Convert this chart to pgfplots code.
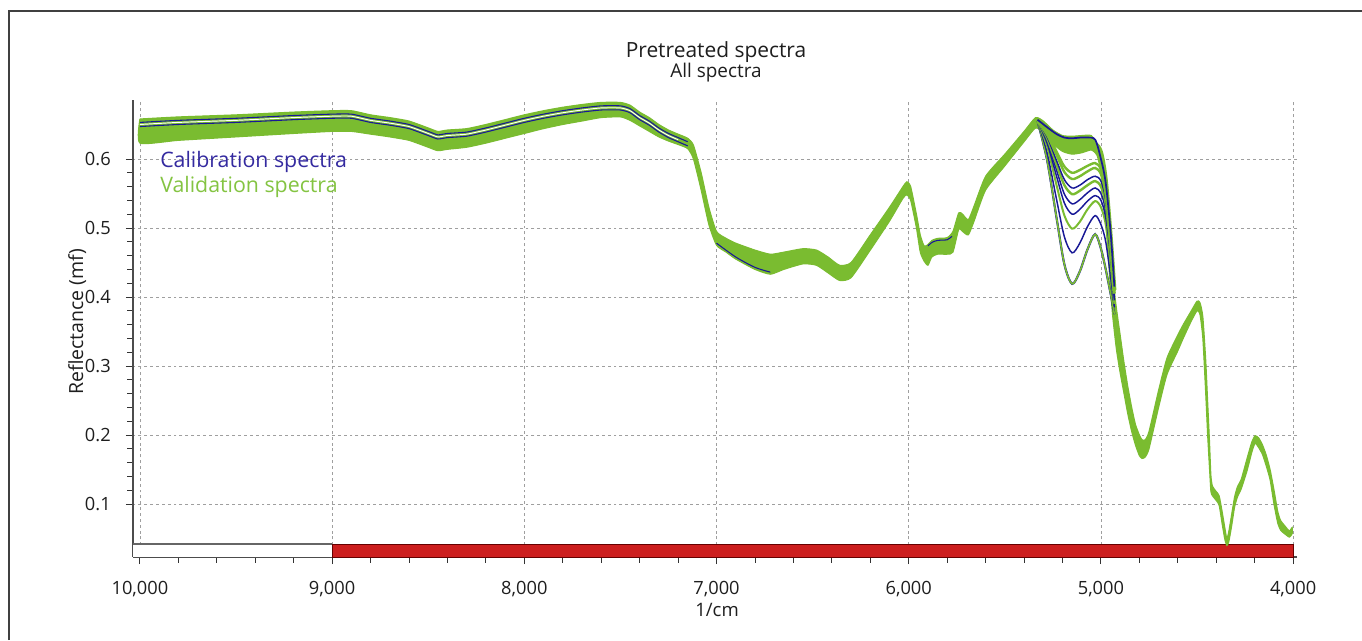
\documentclass[border=0pt]{standalone}
\usepackage{fontspec}
\setmainfont{Open Sans}
\usepackage{pgfplots}
\pgfplotsset{compat=1.18}
\definecolor{specgreen}{RGB}{122,188,48}
\definecolor{specblue}{RGB}{24,24,150}
\definecolor{calblue}{RGB}{52,42,160}
\definecolor{valgreen}{RGB}{132,196,66}
\definecolor{barred}{RGB}{204,30,30}
\definecolor{txt}{RGB}{30,30,30}
\begin{document}
\begin{tikzpicture}
\useasboundingbox (0,0) rectangle (1021.5pt,480pt);
\fill[white] (0,0) rectangle (1021.5pt,480pt);
\draw[black!75, line width=1pt] (6.75pt,0) -- (6.75pt,471.75pt) -- (1021.5pt,471.75pt);
\begin{axis}[
  at={(99.75pt,62.25pt)}, anchor=south west,
  scale only axis, width=873pt, height=342.75pt,
  x dir=reverse, xmin=3980, xmax=10036, ymin=0.0232, ymax=0.6855,
  axis x line=bottom, axis y line=left,
  axis line style={-, black!70, line width=1pt},
  xtick={4000,5000,6000,7000,8000,9000,10000},
  ytick={0.1,0.2,0.3,0.4,0.5,0.6},
  scaled x ticks=false, scaled y ticks=false,
  minor x tick num=4, minor y tick num=4,
  tick align=outside,
  major tick length=5.25pt, minor tick length=4.2pt,
  every tick/.style={black!80, line width=0.7pt},
  grid=major,
  major grid style={gray!75, dash pattern=on 2.2pt off 2.2pt, line width=0.6pt},
  /pgf/number format/assume math mode=true,
  xticklabel style={font=\fontsize{13.7pt}{16pt}\selectfont, text=txt, anchor=base, inner sep=0pt, yshift=-22.5pt,
     /pgf/number format/1000 sep={,}},
  yticklabel style={font=\fontsize{13.7pt}{16pt}\selectfont, text=txt, anchor=east, inner sep=0pt, xshift=-11.25pt,
     /pgf/number format/fixed, /pgf/number format/precision=1},
  clip=false,
]
% white bar zone and red band
\addplot[fill=white, draw=none] coordinates {(10036,0.0232) (10036,0.042) (9000,0.042) (9000,0.0232)} -- cycle;
\addplot[gray!80!black, line width=0.8pt] coordinates {(10036,0.042) (9000,0.042)};
\addplot[fill=barred, draw=black!60!red, line width=0.6pt] coordinates {(9000,0.0232) (9000,0.042) (4000,0.042) (4000,0.0232)} -- cycle;

% green envelope of all spectra (upper then lower)
\addplot[smooth, tension=0.35, draw=specgreen, fill=specgreen, line width=0.8pt] coordinates {
(10000,0.658) (9800,0.661) (9500,0.664) (9200,0.668) (9000,0.670) (8900,0.670) (8800,0.664) (8700,0.660)
(8600,0.655) (8500,0.645) (8450,0.640) (8400,0.642) (8300,0.644) (8200,0.650) (8100,0.657) (8000,0.664)
(7900,0.670) (7800,0.675) (7700,0.679) (7600,0.682) (7500,0.682) (7450,0.678) (7400,0.668) (7350,0.660)
(7300,0.650) (7250,0.642) (7200,0.636) (7150,0.630) (7120,0.620) (7080,0.580) (7040,0.530) (7000,0.495)
(6950,0.485) (6900,0.478) (6800,0.468) (6720,0.462) (6650,0.465) (6550,0.470) (6480,0.468) (6420,0.458)
(6360,0.446) (6300,0.450) (6200,0.490) (6100,0.530) (6030,0.560) (6010,0.567) (5990,0.560) (5960,0.520)
(5940,0.490) (5920,0.474) (5900,0.476) (5880,0.482) (5850,0.485) (5800,0.486) (5770,0.495) (5740,0.522)
(5720,0.520) (5690,0.512) (5660,0.532) (5600,0.575) (5500,0.607) (5400,0.640) (5340,0.660) (5300,0.655)
(5250,0.642) (5200,0.634) (5150,0.633) (5100,0.634) (5050,0.634) (5020,0.620) (5000,0.602) (4985,0.575)
(4970,0.530) (4955,0.480) (4940,0.432) (4920,0.385) (4900,0.345) (4880,0.305) (4860,0.270) (4840,0.240)
(4820,0.215) (4800,0.200) (4786,0.193) (4770,0.193) (4750,0.205) (4700,0.265) (4656,0.312) (4600,0.345)
(4572,0.360) (4530,0.380) (4500,0.394) (4485,0.392) (4470,0.372) (4455,0.310) (4445,0.250) (4435,0.190)
(4428,0.142) (4420,0.126) (4400,0.118) (4385,0.112) (4370,0.090) (4355,0.065) (4345,0.050) (4335,0.060)
(4320,0.085) (4305,0.110) (4290,0.125) (4270,0.136) (4240,0.166) (4215,0.190) (4198,0.199) (4180,0.196)
(4160,0.186) (4140,0.171) (4120,0.150) (4100,0.121) (4080,0.089) (4065,0.076) (4045,0.069) (4020,0.061)
(4005,0.066)
(4005,0.057) (4020,0.052) (4045,0.057) (4065,0.062) (4080,0.072) (4100,0.100) (4120,0.135) (4140,0.155)
(4160,0.172) (4180,0.182) (4198,0.188) (4215,0.175) (4240,0.148) (4270,0.122) (4290,0.110) (4305,0.095)
(4320,0.068) (4335,0.045) (4345,0.040) (4355,0.048) (4370,0.072) (4385,0.098) (4400,0.105) (4420,0.112)
(4428,0.118) (4435,0.150) (4445,0.200) (4455,0.260) (4470,0.340) (4485,0.375) (4500,0.380) (4530,0.365)
(4572,0.340) (4600,0.322) (4656,0.288) (4700,0.240) (4750,0.180) (4770,0.168) (4786,0.166) (4800,0.170)
(4820,0.185) (4840,0.205) (4860,0.230) (4880,0.260) (4900,0.290) (4920,0.325) (4940,0.375) (4955,0.430)
(4970,0.490) (4985,0.540) (5000,0.580) (5020,0.605) (5050,0.613) (5100,0.609) (5150,0.607) (5200,0.611)
(5250,0.622) (5300,0.638) (5340,0.645) (5400,0.625) (5500,0.590) (5600,0.555) (5660,0.510) (5690,0.490)
(5720,0.495) (5740,0.498) (5770,0.465) (5800,0.462) (5850,0.462) (5880,0.458) (5900,0.446) (5920,0.452)
(5940,0.465) (5960,0.500) (5990,0.540) (6010,0.548) (6030,0.543) (6100,0.510) (6200,0.468) (6300,0.428)
(6360,0.424) (6420,0.435) (6480,0.446) (6550,0.448) (6650,0.440) (6720,0.433) (6800,0.440) (6900,0.455)
(6950,0.465) (7000,0.475) (7040,0.505) (7080,0.555) (7120,0.600) (7150,0.615) (7200,0.621) (7250,0.626)
(7300,0.632) (7350,0.640) (7400,0.648) (7450,0.656) (7500,0.661) (7600,0.660) (7700,0.655) (7800,0.650)
(7900,0.644) (8000,0.637) (8100,0.630) (8200,0.623) (8300,0.617) (8400,0.614) (8450,0.612) (8500,0.617)
(8600,0.627) (8700,0.632) (8800,0.636) (8900,0.640) (9000,0.640) (9200,0.637) (9500,0.632) (9800,0.627)
(10000,0.623) (10000,0.658)
};

% calibration spectra near the top of the band (left part)
\addplot[smooth, tension=0.35, specblue, line width=0.8pt] coordinates {
(10000,0.653) (9800,0.656) (9500,0.659) (9200,0.663) (9000,0.665) (8900,0.665) (8800,0.659) (8700,0.655)
(8600,0.650) (8500,0.640) (8450,0.635) (8400,0.637) (8300,0.639) (8200,0.645) (8100,0.652) (8000,0.659)
(7900,0.665) (7800,0.670) (7700,0.674) (7600,0.677) (7500,0.677) (7450,0.673) (7400,0.663) (7350,0.655)
(7300,0.645) (7250,0.637) (7200,0.631) (7150,0.625)};
\addplot[smooth, tension=0.35, white, line width=0.7pt] coordinates {
(10000,0.650) (9800,0.653) (9500,0.656) (9200,0.660) (9000,0.662) (8900,0.662) (8800,0.656) (8700,0.652)
(8600,0.647) (8500,0.637) (8450,0.632) (8400,0.634) (8300,0.636) (8200,0.642) (8100,0.649) (8000,0.656)
(7900,0.662) (7800,0.667) (7700,0.671) (7600,0.674) (7500,0.674) (7450,0.670) (7400,0.660) (7350,0.652)
(7300,0.642) (7250,0.634) (7200,0.628)};
\addplot[smooth, tension=0.35, specblue, line width=0.8pt] coordinates {
(10000,0.647) (9800,0.650) (9500,0.653) (9200,0.657) (9000,0.659) (8900,0.659) (8800,0.653) (8700,0.649)
(8600,0.644) (8500,0.634) (8450,0.629) (8400,0.631) (8300,0.633) (8200,0.639) (8100,0.646) (8000,0.653)
(7900,0.659) (7800,0.664) (7700,0.668) (7600,0.671) (7500,0.671) (7450,0.667) (7400,0.657) (7350,0.649)
(7300,0.639) (7250,0.631) (7200,0.625) (7150,0.619)};
\addplot[smooth, specblue, line width=0.8pt] coordinates {(5900,0.474) (5880,0.479) (5850,0.482) (5800,0.483) (5775,0.488)};
\addplot[smooth, specblue, line width=0.8pt] coordinates {(7000,0.478) (6900,0.458) (6800,0.443) (6720,0.436)};

% diverging spectra between 5330 and 4930 1/cm
\addplot[smooth, specblue, line width=1.6pt] coordinates {(5330,0.655) (5280,0.598) (5230,0.513) (5190,0.447) (5150,0.419) (5110,0.437) (5070,0.469) (5030,0.491) (5000,0.470) (4975,0.440) (4950,0.405) (4930,0.375)};
\addplot[smooth, specgreen, line width=1.2pt] coordinates {(5330,0.655) (5280,0.598) (5230,0.513) (5190,0.447) (5150,0.419) (5110,0.437) (5070,0.469) (5030,0.491) (5000,0.470) (4975,0.440) (4950,0.405) (4930,0.375)};
\addplot[smooth, specblue, line width=1.1pt] coordinates {(5330,0.655) (5280,0.609) (5230,0.540) (5190,0.487) (5150,0.464) (5110,0.478) (5070,0.502) (5030,0.518) (5000,0.505) (4975,0.480) (4950,0.430) (4930,0.385)};
\addplot[smooth, specgreen, line width=1.5pt] coordinates {(5330,0.655) (5280,0.618) (5230,0.561) (5190,0.518) (5150,0.499) (5110,0.509) (5070,0.527) (5030,0.539) (5000,0.530) (4975,0.505) (4950,0.450) (4930,0.390)};
\addplot[smooth, specblue, line width=1.1pt] coordinates {(5330,0.655) (5280,0.623) (5230,0.574) (5190,0.536) (5150,0.520) (5110,0.527) (5070,0.539) (5030,0.547) (5000,0.540) (4975,0.515) (4950,0.460) (4930,0.395)};
\addplot[smooth, specblue, line width=1.1pt] coordinates {(5330,0.655) (5280,0.626) (5230,0.583) (5190,0.549) (5150,0.535) (5110,0.541) (5070,0.551) (5030,0.558) (5000,0.550) (4975,0.525) (4950,0.465) (4930,0.400)};
\addplot[smooth, specgreen, line width=1.8pt] coordinates {(5330,0.655) (5280,0.630) (5230,0.591) (5190,0.562) (5150,0.549) (5110,0.554) (5070,0.562) (5030,0.568) (5000,0.560) (4975,0.535) (4950,0.470) (4930,0.405)};
\addplot[smooth, specblue, line width=1.1pt] coordinates {(5330,0.655) (5280,0.632) (5230,0.597) (5190,0.570) (5150,0.558) (5110,0.562) (5070,0.570) (5030,0.575) (5000,0.568) (4975,0.540) (4950,0.475) (4930,0.405)};
\addplot[smooth, specgreen, line width=1.8pt] coordinates {(5330,0.655) (5280,0.635) (5230,0.605) (5190,0.581) (5150,0.571) (5110,0.575) (5070,0.582) (5030,0.587) (5000,0.578) (4975,0.548) (4950,0.478) (4930,0.405)};
\addplot[smooth, specgreen, line width=1.8pt] coordinates {(5330,0.655) (5280,0.637) (5230,0.610) (5190,0.589) (5150,0.580) (5110,0.584) (5070,0.590) (5030,0.594) (5000,0.585) (4975,0.552) (4950,0.480) (4930,0.408)};
\addplot[smooth, specgreen, line width=3pt] coordinates {(5330,0.655) (5280,0.645) (5230,0.628) (5190,0.617) (5150,0.612) (5110,0.615) (5070,0.619) (5030,0.622) (5000,0.610) (4975,0.570) (4950,0.490) (4930,0.410)};
\addplot[smooth, specblue, line width=1.3pt] coordinates {(5330,0.657) (5280,0.646) (5230,0.636) (5190,0.631) (5150,0.630) (5110,0.631) (5070,0.631) (5030,0.628) (5000,0.600) (4975,0.565) (4950,0.495) (4930,0.415)};
\end{axis}
% titles, legend text, axis labels
\node[anchor=base, text=txt, font=\fontsize{15.7pt}{18pt}\selectfont] at (537pt,436.5pt) {Pretreated spectra};
\node[anchor=base, text=txt, font=\fontsize{14.2pt}{17pt}\selectfont] at (537pt,421.5pt) {All spectra};
\node[anchor=base west, inner sep=0pt, text=calblue, font=\fontsize{16pt}{19pt}\selectfont] at (120pt,354pt) {Calibration spectra};
\node[anchor=base west, inner sep=0pt, text=valgreen, font=\fontsize{16pt}{19pt}\selectfont] at (120pt,335.25pt) {Validation spectra};
\node[anchor=base, inner sep=0pt, text=txt, font=\fontsize{13.9pt}{16pt}\selectfont] at (537.75pt,18pt) {1/cm};
\node[rotate=90, anchor=base, inner sep=0pt, text=txt, font=\fontsize{14.6pt}{17pt}\selectfont] at (62.25pt,238.5pt) {Reflectance (mf)};
\end{tikzpicture}
\end{document}
